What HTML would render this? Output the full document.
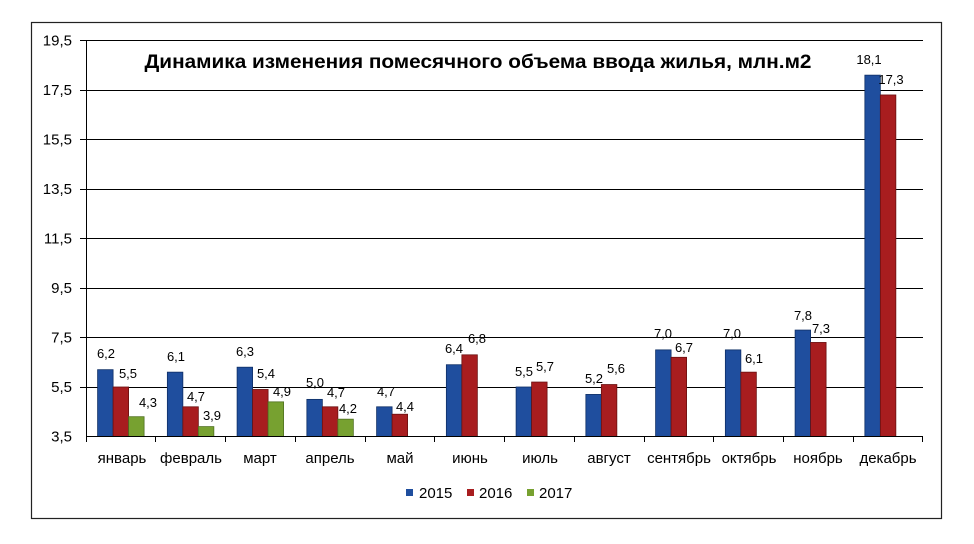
<!DOCTYPE html>
<html><head><meta charset="utf-8"><style>
html,body{margin:0;padding:0;background:#fff;}
svg{display:block;}
text{font-family:"Liberation Sans","DejaVu Sans",sans-serif;fill:#000;}
</style></head><body>
<svg width="974" height="544" viewBox="0 0 974 544" xmlns="http://www.w3.org/2000/svg">
<rect x="0" y="0" width="974" height="544" fill="#fff"/>
<rect x="31.5" y="22.5" width="910" height="496" fill="#fff" stroke="#222" stroke-width="1.2"/>
<g stroke="#000" stroke-width="1" shape-rendering="crispEdges">
<line x1="80" y1="40.5" x2="923" y2="40.5"/>
<line x1="80" y1="90.5" x2="923" y2="90.5"/>
<line x1="80" y1="139.5" x2="923" y2="139.5"/>
<line x1="80" y1="189.5" x2="923" y2="189.5"/>
<line x1="80" y1="238.5" x2="923" y2="238.5"/>
<line x1="80" y1="288.5" x2="923" y2="288.5"/>
<line x1="80" y1="337.5" x2="923" y2="337.5"/>
<line x1="80" y1="387.5" x2="923" y2="387.5"/>
<line x1="86.5" y1="40" x2="86.5" y2="437"/>
</g>
<g font-size="15" text-anchor="end">
<text x="72" y="45.5">19,5</text>
<text x="72" y="95">17,5</text>
<text x="72" y="144.5">15,5</text>
<text x="72" y="194">13,5</text>
<text x="72" y="243.5">11,5</text>
<text x="72" y="293">9,5</text>
<text x="72" y="342.5">7,5</text>
<text x="72" y="392">5,5</text>
<text x="72" y="441.5">3,5</text>
</g>
<text x="478" y="68" font-size="19" font-weight="bold" text-anchor="middle" textLength="667" lengthAdjust="spacingAndGlyphs">Динамика  изменения помесячного  объема  ввода  жилья, млн.м2</text>
<g stroke="#0f2f66" stroke-width="0.8" fill="#1f4e9e">
<rect x="97.6" y="369.675" width="15.5" height="66.825"/>
<rect x="167.35" y="372.15" width="15.5" height="64.35"/>
<rect x="237.1" y="367.2" width="15.5" height="69.3"/>
<rect x="306.85" y="399.375" width="15.5" height="37.125"/>
<rect x="376.6" y="406.8" width="15.5" height="29.7"/>
<rect x="446.35" y="364.725" width="15.5" height="71.775"/>
<rect x="516.1" y="387" width="15.5" height="49.5"/>
<rect x="585.85" y="394.425" width="15.5" height="42.075"/>
<rect x="655.6" y="349.875" width="15.5" height="86.625"/>
<rect x="725.35" y="349.875" width="15.5" height="86.625"/>
<rect x="795.1" y="330.075" width="15.5" height="106.425"/>
<rect x="864.85" y="75.15" width="15.5" height="361.35"/>
</g>
<g stroke="#6a1010" stroke-width="0.8" fill="#a81d1f">
<rect x="113.1" y="387" width="15.5" height="49.5"/>
<rect x="182.85" y="406.8" width="15.5" height="29.7"/>
<rect x="252.6" y="389.475" width="15.5" height="47.025"/>
<rect x="322.35" y="406.8" width="15.5" height="29.7"/>
<rect x="392.1" y="414.225" width="15.5" height="22.275"/>
<rect x="461.85" y="354.825" width="15.5" height="81.675"/>
<rect x="531.6" y="382.05" width="15.5" height="54.45"/>
<rect x="601.35" y="384.525" width="15.5" height="51.975"/>
<rect x="671.1" y="357.3" width="15.5" height="79.2"/>
<rect x="740.85" y="372.15" width="15.5" height="64.35"/>
<rect x="810.6" y="342.45" width="15.5" height="94.05"/>
<rect x="880.35" y="94.95" width="15.5" height="341.55"/>
</g>
<g stroke="#4f7020" stroke-width="0.8" fill="#77a130">
<rect x="128.6" y="416.7" width="15.5" height="19.8"/>
<rect x="198.35" y="426.6" width="15.5" height="9.9"/>
<rect x="268.1" y="401.85" width="15.5" height="34.65"/>
<rect x="337.85" y="419.175" width="15.5" height="17.325"/>
</g>
<g stroke="#000" stroke-width="1" shape-rendering="crispEdges">
<line x1="86" y1="436.5" x2="923" y2="436.5"/>
<line x1="86.5" y1="436" x2="86.5" y2="442"/>
<line x1="155.5" y1="436" x2="155.5" y2="442"/>
<line x1="225.5" y1="436" x2="225.5" y2="442"/>
<line x1="295.5" y1="436" x2="295.5" y2="442"/>
<line x1="365.5" y1="436" x2="365.5" y2="442"/>
<line x1="434.5" y1="436" x2="434.5" y2="442"/>
<line x1="504.5" y1="436" x2="504.5" y2="442"/>
<line x1="574.5" y1="436" x2="574.5" y2="442"/>
<line x1="644.5" y1="436" x2="644.5" y2="442"/>
<line x1="713.5" y1="436" x2="713.5" y2="442"/>
<line x1="783.5" y1="436" x2="783.5" y2="442"/>
<line x1="853.5" y1="436" x2="853.5" y2="442"/>
<line x1="922.5" y1="436" x2="922.5" y2="442"/>
</g>
<g font-size="13" text-anchor="middle">
<text x="106" y="358">6,2</text>
<text x="128" y="378">5,5</text>
<text x="148" y="407">4,3</text>
<text x="176" y="361">6,1</text>
<text x="196" y="401">4,7</text>
<text x="212" y="420">3,9</text>
<text x="245" y="356">6,3</text>
<text x="266" y="378">5,4</text>
<text x="282" y="396">4,9</text>
<text x="315" y="387">5,0</text>
<text x="336" y="397">4,7</text>
<text x="348" y="413">4,2</text>
<text x="386" y="396">4,7</text>
<text x="405" y="411">4,4</text>
<text x="454" y="353">6,4</text>
<text x="477" y="343">6,8</text>
<text x="524" y="376">5,5</text>
<text x="545" y="371">5,7</text>
<text x="594" y="383">5,2</text>
<text x="616" y="373">5,6</text>
<text x="663" y="338">7,0</text>
<text x="684" y="352">6,7</text>
<text x="732" y="338">7,0</text>
<text x="754" y="363">6,1</text>
<text x="803" y="320">7,8</text>
<text x="821" y="333">7,3</text>
<text x="869" y="64">18,1</text>
<text x="891" y="84">17,3</text>
</g>
<g font-size="15" text-anchor="middle">
<text x="122" y="463">январь</text>
<text x="191" y="463">февраль</text>
<text x="260" y="463">март</text>
<text x="330" y="463">апрель</text>
<text x="400" y="463">май</text>
<text x="470" y="463">июнь</text>
<text x="540" y="463">июль</text>
<text x="609" y="463">август</text>
<text x="679" y="463">сентябрь</text>
<text x="749" y="463">октябрь</text>
<text x="818" y="463">ноябрь</text>
<text x="888" y="463">декабрь</text>
</g>
<rect x="406" y="489" width="7" height="7" fill="#1f4e9e"/>
<text x="419" y="498" font-size="15">2015</text>
<rect x="467" y="489" width="7" height="7" fill="#a81d1f"/>
<text x="479" y="498" font-size="15">2016</text>
<rect x="527" y="489" width="7" height="7" fill="#77a130"/>
<text x="539" y="498" font-size="15">2017</text>
</svg>
</body></html>
